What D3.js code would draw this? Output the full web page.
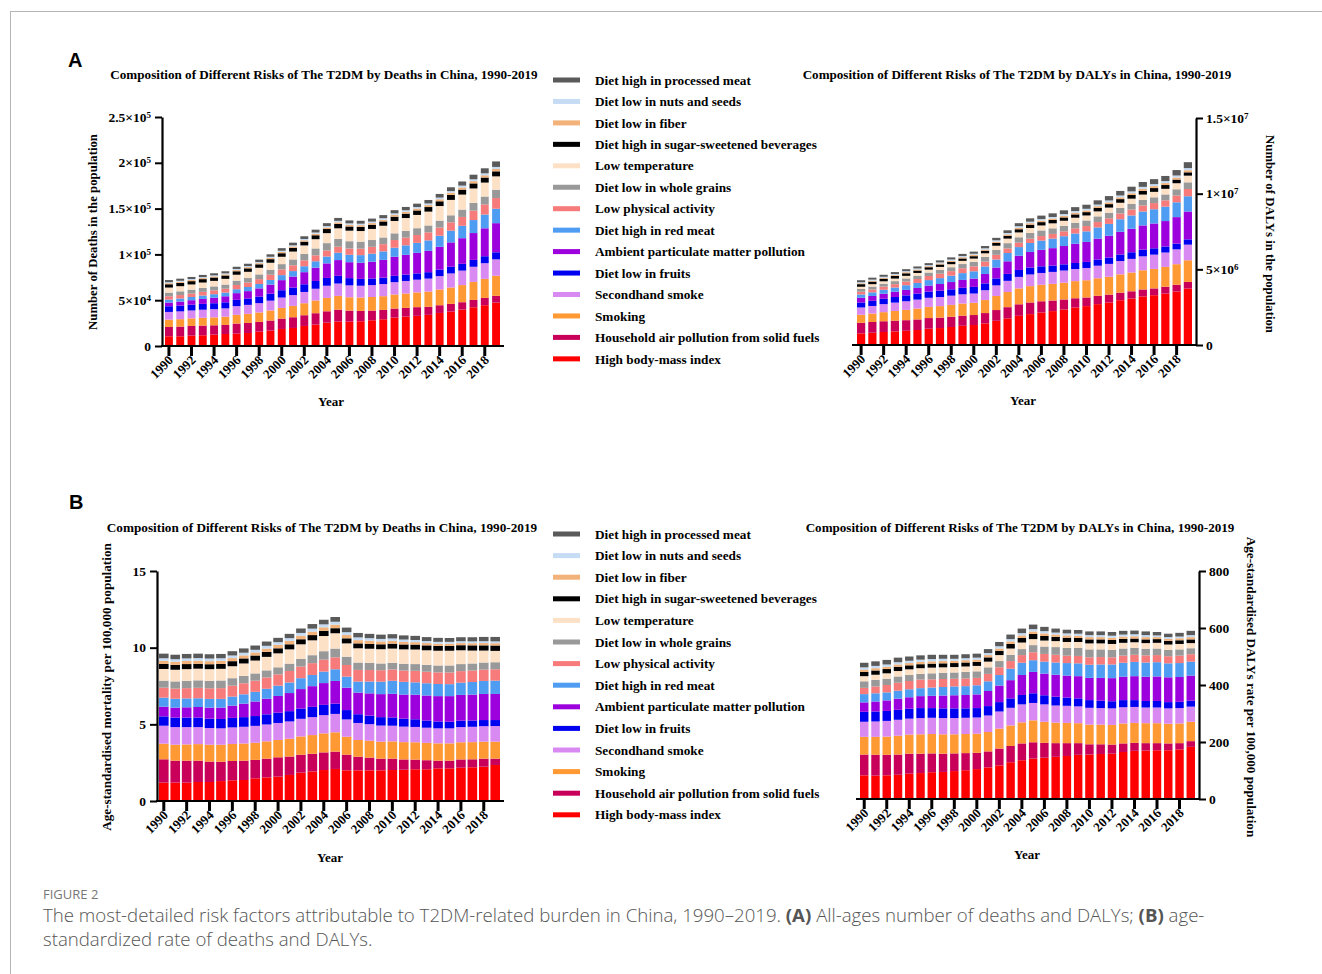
<!DOCTYPE html>
<html>
<head>
<meta charset="utf-8">
<title>T2DM risk factors in China, 1990-2019</title>
<script src="https://cdn.jsdelivr.net/npm/d3@7"></script>
<style>
  body { margin: 0; background: #fff; }
  svg text { font-family: "Liberation Serif", "Times New Roman", serif; font-weight: bold; fill: #000; }
  svg text.sans { font-family: "Liberation Sans", Arial, sans-serif; }
  svg text.cap { font-family: "Open Sans", "Noto Sans", sans-serif; font-weight: 300; fill: #555; }
</style>
</head>
<body>
<svg id="fig" width="1322" height="974"></svg>
<script>
var years = d3.range(1990, 2020);
var evenYears = years.filter(function(y) { return y % 2 === 0; });

// stacking order, bottom to top
var risks = [
  "High body-mass index",
  "Household air pollution from solid fuels",
  "Smoking",
  "Secondhand smoke",
  "Diet low in fruits",
  "Ambient particulate matter pollution",
  "Diet high in red meat",
  "Low physical activity",
  "Diet low in whole grains",
  "Low temperature",
  "Diet high in sugar-sweetened beverages",
  "Diet low in fiber",
  "Diet low in nuts and seeds",
  "Diet high in processed meat"
];
var riskColors = ["#ff0000", "#c8005a", "#ff9933", "#d98af2", "#0000f0", "#9c00dc",
  "#4f9df2", "#f77b7b", "#999999", "#fde1c6", "#000000", "#f2b27a", "#c6dcf5", "#5a5a5a"];

// (A) deaths, thousands
var deathsNum = [
  [10.6,10.6,11.3,11.7,12.4,13.1,13.5,14.2,15.7,16.8,18.6,19.7,21.9,23.4,25.5,26.6,26.6,27.0,28.1,29.2,31.0,32.1,32.9,34.0,36.1,37.6,39.8,42.3,44.5,47.5],
  [10.2,10.6,10.6,10.6,10.2,9.9,11.0,11.0,10.6,11.0,11.3,11.7,11.7,12.4,12.4,13.1,12.0,11.3,10.6,10.2,9.9,9.5,9.5,8.8,8.4,8.4,8.0,8.0,8.0,7.3],
  [8.0,8.1,8.3,8.5,8.7,9.0,9.5,9.9,10.3,11.0,11.7,12.4,13.1,13.9,14.6,15.0,14.6,14.6,14.8,15.0,15.3,15.7,16.1,16.6,17.2,17.9,18.7,19.7,20.8,21.9],
  [8.4,8.5,8.6,8.8,8.9,9.1,9.5,9.8,10.2,10.7,11.3,11.8,12.3,12.8,13.3,13.5,13.0,12.9,13.0,13.2,13.5,13.7,13.9,14.2,14.6,15.3,15.8,16.5,17.1,17.9],
  [6.2,6.3,6.3,6.4,6.5,6.6,6.9,7.0,7.2,7.6,8.0,8.2,8.4,8.5,8.5,8.4,7.9,7.5,7.2,7.0,6.9,6.9,6.9,7.0,7.1,7.3,7.4,7.5,7.6,7.7],
  [4.0,4.4,4.9,5.4,6.0,6.6,7.3,8.0,8.9,9.9,11.0,12.0,13.2,14.5,15.9,17.2,17.4,17.6,18.3,19.4,20.8,21.6,22.4,23.3,24.9,26.6,28.0,29.3,30.5,31.8],
  [3.3,3.4,3.5,3.7,3.9,4.0,4.3,4.5,4.8,5.1,5.5,6.0,6.5,7.0,7.5,8.0,8.1,8.3,8.8,9.3,9.9,10.4,10.9,11.4,12.1,12.8,13.5,14.2,15.0,15.7],
  [3.6,3.7,3.8,4.0,4.1,4.3,4.6,4.9,5.3,5.7,6.2,6.3,6.4,6.5,6.6,6.6,6.8,7.1,7.5,7.9,8.4,8.5,8.6,8.8,8.9,9.1,9.7,10.3,11.0,11.7],
  [4.0,4.1,4.2,4.3,4.4,4.5,4.7,4.9,5.2,5.5,5.8,6.4,7.0,7.5,8.0,8.4,8.0,7.6,7.4,7.3,7.3,7.3,7.4,7.5,7.6,7.7,8.0,8.4,8.7,9.1],
  [5.5,5.6,5.7,5.9,6.0,6.2,6.5,6.8,7.2,7.6,8.0,8.6,9.3,10.1,10.9,11.7,11.5,11.6,12.1,12.8,13.5,14.0,14.5,15.1,15.9,16.8,16.4,15.8,15.2,14.6],
  [3.6,3.6,3.6,3.7,3.7,3.7,3.8,3.8,3.8,3.9,3.9,4.0,4.1,4.3,4.5,4.7,4.6,4.6,4.6,4.7,4.7,4.8,4.9,5.0,5.2,5.4,5.4,5.5,5.5,5.5],
  [1.2,1.2,1.2,1.2,1.2,1.2,1.3,1.3,1.3,1.4,1.4,1.5,1.5,1.6,1.7,1.8,1.8,1.8,1.8,1.9,1.9,2.0,2.0,2.1,2.2,2.3,2.4,2.5,2.5,2.6],
  [1.1,1.1,1.1,1.1,1.1,1.1,1.2,1.2,1.2,1.2,1.3,1.3,1.4,1.4,1.5,1.6,1.6,1.6,1.6,1.6,1.7,1.7,1.7,1.8,1.8,1.9,2.0,2.0,2.1,2.2],
  [2.3,2.3,2.3,2.3,2.3,2.3,2.4,2.5,2.6,2.7,2.8,2.9,3.0,3.1,3.2,3.2,3.2,3.2,3.3,3.4,3.5,3.6,3.7,3.8,4.0,4.2,4.5,5.0,5.5,6.0]
];

// (A) DALYs, millions
var dalysNum = [
  [0.77,0.81,0.86,0.90,0.94,0.99,1.08,1.12,1.19,1.27,1.32,1.43,1.60,1.76,1.93,2.04,2.15,2.24,2.35,2.48,2.57,2.70,2.81,2.96,3.07,3.21,3.29,3.40,3.54,3.73],
  [0.70,0.71,0.71,0.71,0.70,0.70,0.70,0.69,0.68,0.67,0.66,0.68,0.71,0.74,0.76,0.77,0.74,0.70,0.66,0.61,0.57,0.55,0.52,0.50,0.48,0.46,0.45,0.45,0.44,0.44],
  [0.53,0.56,0.60,0.64,0.68,0.72,0.74,0.76,0.78,0.80,0.81,0.86,0.93,1.00,1.05,1.08,1.09,1.10,1.11,1.13,1.14,1.16,1.18,1.21,1.24,1.27,1.29,1.31,1.36,1.43],
  [0.48,0.50,0.53,0.55,0.57,0.59,0.60,0.60,0.61,0.61,0.61,0.65,0.70,0.74,0.76,0.77,0.78,0.79,0.80,0.80,0.81,0.83,0.85,0.88,0.90,0.92,0.94,0.95,0.98,1.03],
  [0.33,0.34,0.36,0.37,0.39,0.40,0.41,0.42,0.42,0.43,0.44,0.45,0.46,0.46,0.46,0.46,0.44,0.42,0.41,0.40,0.40,0.41,0.42,0.43,0.44,0.44,0.42,0.40,0.38,0.35],
  [0.31,0.32,0.33,0.35,0.36,0.37,0.40,0.44,0.48,0.52,0.55,0.62,0.72,0.83,0.94,1.03,1.09,1.15,1.21,1.27,1.32,1.38,1.44,1.50,1.55,1.60,1.64,1.68,1.75,1.84],
  [0.22,0.24,0.26,0.28,0.31,0.33,0.36,0.39,0.42,0.45,0.48,0.50,0.53,0.55,0.57,0.59,0.61,0.63,0.65,0.68,0.70,0.74,0.78,0.83,0.88,0.92,0.94,0.95,0.98,1.01],
  [0.18,0.19,0.21,0.22,0.24,0.26,0.27,0.29,0.30,0.32,0.33,0.32,0.31,0.30,0.29,0.29,0.30,0.31,0.32,0.34,0.35,0.36,0.37,0.38,0.39,0.40,0.41,0.42,0.45,0.48],
  [0.18,0.19,0.19,0.20,0.21,0.22,0.23,0.25,0.26,0.28,0.29,0.31,0.33,0.35,0.36,0.37,0.37,0.37,0.37,0.37,0.37,0.37,0.37,0.37,0.37,0.37,0.38,0.39,0.41,0.44],
  [0.15,0.16,0.16,0.17,0.17,0.18,0.19,0.20,0.20,0.21,0.22,0.24,0.27,0.30,0.32,0.33,0.33,0.33,0.33,0.33,0.33,0.33,0.34,0.34,0.35,0.35,0.36,0.37,0.40,0.44],
  [0.17,0.17,0.17,0.17,0.17,0.16,0.16,0.16,0.16,0.16,0.16,0.17,0.18,0.19,0.21,0.22,0.22,0.22,0.22,0.22,0.22,0.23,0.23,0.24,0.24,0.25,0.25,0.25,0.24,0.22],
  [0.06,0.06,0.06,0.06,0.07,0.07,0.07,0.07,0.07,0.08,0.08,0.08,0.09,0.09,0.10,0.10,0.10,0.10,0.11,0.11,0.11,0.11,0.12,0.12,0.12,0.13,0.13,0.13,0.14,0.14],
  [0.07,0.07,0.07,0.07,0.07,0.07,0.07,0.07,0.08,0.08,0.08,0.08,0.09,0.09,0.10,0.10,0.10,0.10,0.11,0.11,0.11,0.11,0.12,0.12,0.12,0.13,0.13,0.13,0.13,0.14],
  [0.13,0.13,0.13,0.13,0.13,0.13,0.13,0.13,0.14,0.14,0.14,0.15,0.16,0.18,0.20,0.22,0.23,0.24,0.25,0.26,0.27,0.28,0.29,0.30,0.31,0.32,0.33,0.34,0.36,0.39]
];

// (B) age-standardised mortality per 100,000
var deathsRate = [
  [1.20,1.20,1.20,1.24,1.24,1.30,1.35,1.37,1.48,1.54,1.59,1.70,1.85,1.93,2.02,2.09,2.00,2.00,2.00,2.00,2.02,2.04,2.07,2.07,2.13,2.13,2.17,2.20,2.24,2.35],
  [1.52,1.43,1.43,1.39,1.33,1.26,1.26,1.26,1.20,1.22,1.26,1.20,1.17,1.15,1.15,1.13,1.02,0.89,0.83,0.76,0.74,0.67,0.63,0.59,0.50,0.50,0.54,0.52,0.52,0.41],
  [1.02,1.04,1.06,1.08,1.10,1.11,1.11,1.12,1.12,1.13,1.13,1.16,1.19,1.22,1.24,1.26,1.17,1.09,1.10,1.11,1.13,1.13,1.13,1.13,1.13,1.13,1.12,1.12,1.11,1.11],
  [1.17,1.15,1.13,1.11,1.09,1.07,1.08,1.09,1.10,1.10,1.11,1.13,1.15,1.17,1.19,1.20,1.13,1.11,1.08,1.05,1.02,1.01,1.00,0.99,0.98,0.98,0.99,1.00,1.01,1.02],
  [0.61,0.62,0.62,0.62,0.61,0.61,0.62,0.63,0.64,0.66,0.67,0.67,0.67,0.67,0.67,0.67,0.61,0.57,0.56,0.55,0.54,0.52,0.50,0.47,0.45,0.43,0.42,0.41,0.40,0.39],
  [0.63,0.65,0.67,0.69,0.72,0.74,0.80,0.88,0.95,1.02,1.09,1.18,1.27,1.35,1.42,1.48,1.46,1.41,1.45,1.50,1.54,1.57,1.60,1.63,1.65,1.67,1.68,1.69,1.70,1.70],
  [0.59,0.58,0.58,0.57,0.57,0.57,0.59,0.61,0.63,0.65,0.67,0.69,0.71,0.73,0.75,0.76,0.72,0.72,0.77,0.81,0.85,0.83,0.81,0.80,0.79,0.78,0.80,0.82,0.85,0.87],
  [0.65,0.66,0.67,0.68,0.69,0.70,0.71,0.72,0.73,0.74,0.74,0.75,0.76,0.77,0.78,0.78,0.76,0.76,0.75,0.75,0.74,0.74,0.75,0.75,0.76,0.76,0.75,0.75,0.74,0.74],
  [0.46,0.47,0.48,0.49,0.49,0.50,0.49,0.48,0.47,0.46,0.46,0.48,0.50,0.52,0.55,0.57,0.54,0.48,0.46,0.44,0.43,0.44,0.44,0.45,0.45,0.46,0.46,0.46,0.46,0.46],
  [0.76,0.76,0.76,0.76,0.76,0.76,0.78,0.81,0.84,0.88,0.91,0.93,0.95,0.97,0.99,1.00,0.87,0.93,0.93,0.93,0.93,0.94,0.95,0.95,0.96,0.96,0.90,0.84,0.78,0.74],
  [0.33,0.32,0.33,0.32,0.32,0.32,0.33,0.33,0.33,0.33,0.33,0.33,0.33,0.34,0.34,0.33,0.33,0.32,0.32,0.32,0.32,0.32,0.32,0.32,0.32,0.32,0.33,0.34,0.34,0.35],
  [0.20,0.20,0.20,0.20,0.20,0.20,0.20,0.20,0.20,0.21,0.22,0.22,0.23,0.23,0.23,0.23,0.22,0.21,0.20,0.19,0.18,0.17,0.16,0.15,0.14,0.14,0.14,0.14,0.15,0.15],
  [0.17,0.17,0.17,0.17,0.17,0.17,0.17,0.17,0.17,0.18,0.18,0.18,0.18,0.19,0.19,0.19,0.18,0.18,0.17,0.16,0.16,0.15,0.14,0.13,0.12,0.12,0.12,0.12,0.12,0.12],
  [0.30,0.29,0.29,0.29,0.28,0.28,0.28,0.28,0.28,0.28,0.28,0.28,0.29,0.30,0.30,0.31,0.30,0.29,0.28,0.28,0.28,0.27,0.27,0.26,0.26,0.25,0.26,0.27,0.28,0.29]
];

// (B) age-standardised DALYs rate per 100,000
var dalysRate = [
  [83,82,83,85,89,91,94,95,98,101,105,111,118,129,136,142,145,148,151,155,156,158,159,165,169,170,171,171,174,183],
  [73,73,72,71,70,68,66,64,62,60,57,56,59,57,59,57,52,48,45,41,36,34,32,30,28,26,25,24,22,20],
  [62,63,64,66,67,68,68,68,67,67,67,68,70,72,74,77,74,72,71,70,69,69,69,70,70,70,70,69,69,68],
  [53,54,55,56,56,57,57,57,57,57,57,58,60,62,63,61,61,60,60,59,59,58,58,57,56,55,55,54,54,53],
  [35,35,35,35,35,35,34,34,34,33,33,33,33,33,33,34,32,31,29,28,27,26,25,25,24,23,23,22,22,21],
  [33,35,37,39,40,42,43,45,46,47,48,53,58,64,70,75,76,77,77,78,78,80,81,82,84,85,86,87,87,88],
  [29,29,28,28,28,28,29,30,31,31,32,34,37,40,43,41,42,43,44,45,46,47,48,49,50,50,50,49,49,49],
  [22,24,26,28,29,30,29,28,27,27,26,26,27,27,27,28,27,27,26,26,26,26,25,25,25,25,25,25,26,26],
  [23,23,22,22,21,20,21,22,22,23,23,23,22,22,21,25,26,27,27,28,28,27,26,25,24,23,23,22,22,21],
  [18,18,19,19,20,20,20,19,19,19,19,20,21,22,23,21,21,21,21,21,21,21,21,20,20,20,20,19,19,18],
  [15,15,15,15,14,14,14,14,14,14,14,15,15,16,16,18,16,15,15,14,14,14,14,14,13,13,13,13,13,13],
  [8,8,8,8,8,8,8,8,8,8,8,8,8,9,9,9,9,8,8,8,8,8,8,8,8,8,7,7,7,8],
  [8,8,8,8,8,8,8,8,7,7,7,7,8,8,8,8,8,7,7,7,7,7,7,7,7,7,6,6,6,7],
  [16,16,16,16,15,15,15,14,14,14,14,14,15,16,16,16,15,14,13,13,13,13,13,13,13,13,12,12,13,15]
];

// tick values and labels ([mantissa, exponent])
var deathsNumTicks = [0, 5e4, 1e5, 1.5e5, 2e5, 2.5e5];
var deathsNumLabels = [["0", ""], ["5\u00d710", "4"], ["1\u00d710", "5"], ["1.5\u00d710", "5"], ["2\u00d710", "5"], ["2.5\u00d710", "5"]];
var dalysNumTicks = [0, 5e6, 1e7, 1.5e7];
var dalysNumLabels = [["0", ""], ["5\u00d710", "6"], ["1\u00d710", "7"], ["1.5\u00d710", "7"]];
var deathsRateTicks = [0, 5, 10, 15];
var deathsRateLabels = [["0", ""], ["5", ""], ["10", ""], ["15", ""]];
var dalysRateTicks = [0, 200, 400, 600, 800];
var dalysRateLabels = [["0", ""], ["200", ""], ["400", ""], ["600", ""], ["800", ""]];

var svg = d3.select("#fig");

// fit a text element to a given width
function fit(sel, w) {
  var fs = parseFloat(sel.style("font-size"));
  var len = sel.node().getComputedTextLength();
  sel.style("font-size", (fs * w / len) + "px");
}

// frame
svg.append("line").attr("x1", 10).attr("x2", 1322).attr("y1", 11.5).attr("y2", 11.5)
  .attr("stroke", "#b5b5b5").attr("stroke-width", 1);
svg.append("line").attr("x1", 10.5).attr("x2", 10.5).attr("y1", 11).attr("y2", 974)
  .attr("stroke", "#b5b5b5").attr("stroke-width", 1);

svg.append("text").attr("class", "sans").attr("x", 68).attr("y", 67).style("font-size", "20px").text("A");
svg.append("text").attr("class", "sans").attr("x", 69).attr("y", 509).style("font-size", "20px").text("B");

function drawPanel(p) {
  var rows = years.map(function(yr, i) {
    var r = { year: yr };
    risks.forEach(function(k, j) { r[k] = p.values[j][i] * p.unit; });
    return r;
  });
  var series = d3.stack().keys(risks)(rows);

  var x = d3.scaleBand().domain(years).range([p.barL, p.barR]).paddingInner(p.gap).paddingOuter(0);
  var y = d3.scaleLinear().domain([0, p.max]).range([p.bottom, p.top]);

  var g = svg.append("g");

  g.selectAll(".layer")
    .data(series)
    .enter().append("g")
    .attr("fill", function(d, i) { return riskColors[i]; })
    .selectAll("rect")
    .data(function(d) { return d; })
    .enter().append("rect")
    .attr("x", function(d) { return x(d.data.year); })
    .attr("width", x.bandwidth())
    .attr("y", function(d) { return y(d[1]); })
    .attr("height", function(d) { return y(d[0]) - y(d[1]); });

  // y axis
  var yAxis = (p.side === "left" ? d3.axisLeft(y) : d3.axisRight(y))
    .tickValues(p.ticks).tickFormat("").tickSize(7).tickSizeOuter(0);
  var ya = g.append("g").attr("transform", "translate(" + p.axisX + ",0)").call(yAxis);
  ya.select(".domain").attr("stroke-width", 2.2);
  ya.selectAll(".tick line").attr("stroke-width", 2);

  var lab = g.selectAll(".ylab")
    .data(p.ticks)
    .enter().append("text")
    .attr("x", p.side === "left" ? p.axisX - 11 : p.axisX + 10)
    .attr("y", function(d) { return y(d); })
    .attr("dy", "0.34em")
    .attr("text-anchor", p.side === "left" ? "end" : "start")
    .style("font-size", "13.5px");
  lab.append("tspan").text(function(d, i) { return p.labels[i][0]; });
  lab.append("tspan")
    .attr("dy", "-0.45em")
    .style("font-size", "9px")
    .text(function(d, i) { return p.labels[i][1]; });

  // x axis
  g.append("line")
    .attr("x1", p.xAxisL).attr("x2", p.xAxisR)
    .attr("y1", p.bottom).attr("y2", p.bottom)
    .attr("stroke", "#000").attr("stroke-width", 2.2);

  g.selectAll(".xtick")
    .data(evenYears)
    .enter().append("line")
    .attr("x1", function(d) { return x(d) + x.bandwidth() / 2; })
    .attr("x2", function(d) { return x(d) + x.bandwidth() / 2; })
    .attr("y1", p.bottom).attr("y2", p.bottom + 10)
    .attr("stroke", "#000").attr("stroke-width", 3);

  g.selectAll(".xlab")
    .data(evenYears)
    .enter().append("text")
    .attr("text-anchor", "end")
    .attr("transform", function(d) {
      return "translate(" + (x(d) + x.bandwidth() / 2 + 5) + "," + (p.bottom + 15) + ") rotate(-45)";
    })
    .style("font-size", "13px")
    .text(function(d) { return d; });

  g.append("text")
    .attr("x", p.yearX).attr("y", p.yearY)
    .attr("text-anchor", "middle")
    .style("font-size", "13px")
    .text("Year");

  var t = g.append("text")
    .attr("x", p.titleX).attr("y", p.titleY)
    .attr("text-anchor", "middle")
    .style("font-size", "13px")
    .text(p.title);
  fit(t, p.titleW);

  var yl = g.append("text")
    .attr("text-anchor", "middle")
    .attr("transform", "translate(" + p.ylabX + "," + p.ylabY + ") rotate(" + (p.side === "left" ? -90 : 90) + ")")
    .style("font-size", "13px")
    .text(p.ylabel);
  fit(yl, p.ylabW);
}

function drawLegend(top, step) {
  var lg = svg.append("g");
  var order = risks.map(function(d, i) { return i; }).reverse();
  var items = lg.selectAll("g")
    .data(order)
    .enter().append("g")
    .attr("transform", function(d, k) { return "translate(0," + (top + k * step) + ")"; });
  items.append("rect")
    .attr("x", 553).attr("y", -2.5).attr("width", 27).attr("height", 5)
    .attr("fill", function(d) { return riskColors[d]; });
  items.append("text")
    .attr("x", 595).attr("dy", "0.35em")
    .style("font-size", "13px")
    .text(function(d) { return risks[d]; });
  var longest = items.filter(function(d) { return d === 10; }).select("text");
  var fs = 13 * 222 / longest.node().getComputedTextLength();
  items.selectAll("text").style("font-size", fs + "px");
}

drawPanel({
  values: deathsNum, unit: 1e3, max: 2.5e5, ticks: deathsNumTicks, labels: deathsNumLabels,
  side: "left", axisX: 162, barL: 165, barR: 500, gap: 0.3, top: 117, bottom: 346,
  xAxisL: 161, xAxisR: 504,
  title: "Composition of Different Risks of The T2DM by Deaths in China, 1990-2019",
  titleX: 324, titleY: 79, titleW: 428,
  ylabel: "Number of Deaths in the population", ylabX: 97, ylabY: 232, ylabW: 196,
  yearX: 331, yearY: 406
});

drawPanel({
  values: dalysNum, unit: 1e6, max: 1.5e7, ticks: dalysNumTicks, labels: dalysNumLabels,
  side: "right", axisX: 1196, barL: 857, barR: 1192, gap: 0.27, top: 118, bottom: 345,
  xAxisL: 852, xAxisR: 1197,
  title: "Composition of Different Risks of The T2DM by DALYs in China, 1990-2019",
  titleX: 1017, titleY: 79, titleW: 429,
  ylabel: "Number of DALYs in the population", ylabX: 1266, ylabY: 234, ylabW: 198,
  yearX: 1023, yearY: 405
});

drawPanel({
  values: deathsRate, unit: 1, max: 15, ticks: deathsRateTicks, labels: deathsRateLabels,
  side: "left", axisX: 157, barL: 159, barR: 500, gap: 0.16, top: 571, bottom: 801,
  xAxisL: 156, xAxisR: 504,
  title: "Composition of Different Risks of The T2DM by Deaths in China, 1990-2019",
  titleX: 322, titleY: 532, titleW: 431,
  ylabel: "Age-standardised mortality per 100,000 population", ylabX: 111, ylabY: 687, ylabW: 288,
  yearX: 330, yearY: 862
});

drawPanel({
  values: dalysRate, unit: 1, max: 800, ticks: dalysRateTicks, labels: dalysRateLabels,
  side: "right", axisX: 1199, barL: 860, barR: 1195, gap: 0.25, top: 571, bottom: 799,
  xAxisL: 856, xAxisR: 1200,
  title: "Composition of Different Risks of The T2DM by DALYs in China, 1990-2019",
  titleX: 1020, titleY: 532, titleW: 429,
  ylabel: "Age-standardised DALYs rate per 100,000 population", ylabX: 1247, ylabY: 687, ylabW: 301,
  yearX: 1027, yearY: 859
});

drawLegend(80, 21.45);
drawLegend(534, 21.6);

// caption
svg.append("text").attr("class", "cap").attr("x", 43).attr("y", 899)
  .style("font-size", "13px").style("font-weight", "400").style("fill", "#777")
  .text("FIGURE 2");

var cap1 = svg.append("text").attr("class", "cap").attr("x", 43).attr("y", 922).style("font-size", "16px");
cap1.append("tspan").text("The most-detailed risk factors attributable to T2DM-related burden in China, 1990\u20132019. ");
cap1.append("tspan").style("font-weight", "700").text("(A)");
cap1.append("tspan").text(" All-ages number of deaths and DALYs; ");
cap1.append("tspan").style("font-weight", "700").text("(B)");
cap1.append("tspan").text(" age-");
var capFs = 16 * 1162 / cap1.node().getComputedTextLength();
cap1.style("font-size", capFs + "px");
svg.append("text").attr("class", "cap").attr("x", 43).attr("y", 946).style("font-size", capFs + "px")
  .text("standardized rate of deaths and DALYs.");
</script>
</body>
</html>
